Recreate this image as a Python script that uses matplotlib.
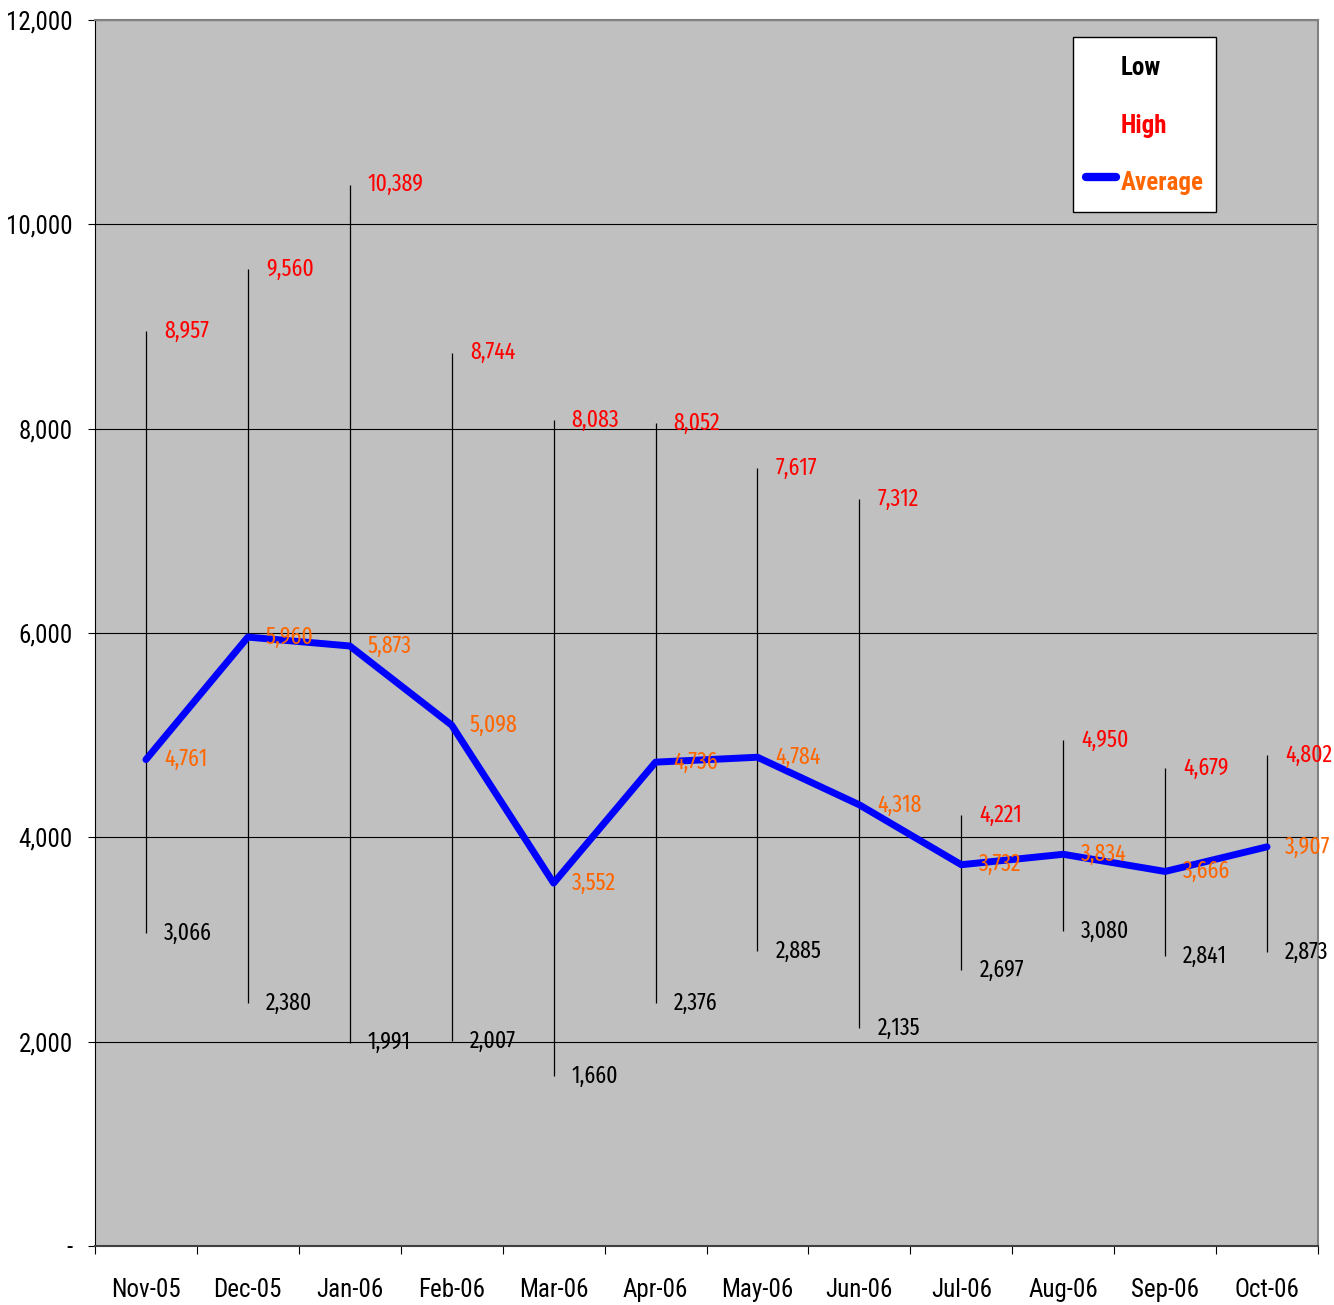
import matplotlib.pyplot as plt
from matplotlib.lines import Line2D
from matplotlib.ticker import FuncFormatter

months = ['Nov-05', 'Dec-05', 'Jan-06', 'Feb-06', 'Mar-06', 'Apr-06',
          'May-06', 'Jun-06', 'Jul-06', 'Aug-06', 'Sep-06', 'Oct-06']
low = [3066, 2380, 1991, 2007, 1660, 2376, 2885, 2135, 2697, 3080, 2841, 2873]
high = [8957, 9560, 10389, 8744, 8083, 8052, 7617, 7312, 4221, 4950, 4679, 4802]
average = [4761, 5960, 5873, 5098, 3552, 4736, 4784, 4318, 3732, 3834, 3666, 3907]

# narrow fonts to stand in for Arial Narrow
plt.rcParams['font.family'] = ['Roboto Condensed', 'Liberation Sans', 'DejaVu Sans']
label_font = ['Fira Sans Extra Condensed', 'Roboto Condensed', 'DejaVu Sans']

fig = plt.figure(figsize=(13.34, 13.05), dpi=100)
ax = fig.add_axes([95 / 1334, 1 - 1246 / 1305, 1223 / 1334, 1226 / 1305])
ax.set_facecolor('#C0C0C0')

x = list(range(len(months)))

# high-low bars
ax.vlines(x, low, high, color='black', lw=0.9, zorder=3)
ax.plot(x, average, color='#0000FF', lw=5, solid_capstyle='round', zorder=4)

for i in x:
    for val, col in [(high[i], '#FF0000'), (low[i], 'black'), (average[i], '#FF6600')]:
        ax.annotate(f'{val:,}', (i, val), xytext=(13, 0), textcoords='offset points',
                    va='center', ha='left', color=col, fontsize=17, family=label_font,
                    zorder=5, annotation_clip=False)

ax.set_xlim(-0.5, len(months) - 0.5)
ax.set_ylim(0, 12000)
ax.set_yticks(range(0, 12001, 2000))
ax.yaxis.set_major_formatter(FuncFormatter(lambda v, p: '-' if v == 0 else f'{int(v):,}'))
ax.grid(axis='y', color='black', lw=0.8)
ax.set_axisbelow(True)

ax.set_xticks([i + 0.5 for i in range(-1, len(months))])
ax.set_xticklabels([])
ax.set_xticks(x, minor=True)
ax.set_xticklabels(months, minor=True)
ax.tick_params(axis='x', which='major', length=6, color='black', direction='out')
ax.tick_params(axis='x', which='minor', length=0, pad=23, labelsize=18)
ax.tick_params(axis='y', length=5, direction='out', labelsize=18, pad=11)

for s in ['top', 'right']:
    ax.spines[s].set_color('#808080')
    ax.spines[s].set_linewidth(1.5)
ax.spines['bottom'].set_color('#404040')
ax.spines['bottom'].set_linewidth(1.5)
ax.spines['left'].set_color('black')

handles = [Line2D([], [], color='none'), Line2D([], [], color='none'),
           Line2D([], [], color='#0000FF', lw=6, solid_capstyle='round')]
leg = ax.legend(handles, ['Low', 'High', 'Average'], loc='upper right',
                bbox_to_anchor=(1121 / 1223, 1209 / 1226), borderaxespad=0,
                fancybox=False, framealpha=1, edgecolor='black',
                prop={'weight': 'bold', 'size': 18}, labelspacing=0.88,
                handlelength=1.2, handleheight=1.8, handletextpad=0.2, borderpad=0.5,
                labelcolor=['black', '#FF0000', '#FF6600'])
leg.get_frame().set_linewidth(1)

fig.savefig('out.png', dpi=100)
